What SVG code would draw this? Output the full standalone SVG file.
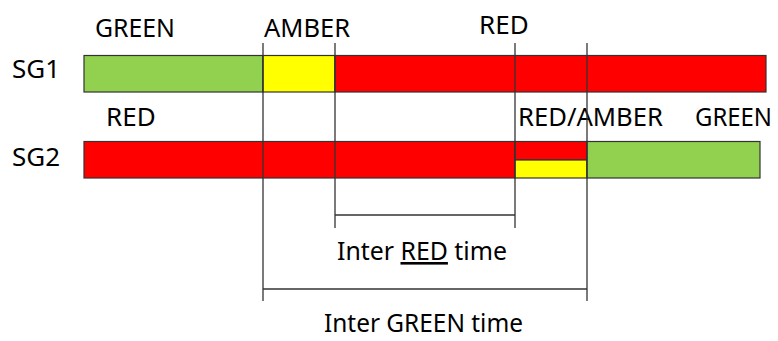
<svg xmlns="http://www.w3.org/2000/svg" width="778" height="341" viewBox="0 0 778 341">
<style>
text{font-family:"Noto Sans","Open Sans","Liberation Sans",sans-serif;font-size:26px;fill:#000}
.bar{stroke:#333;stroke-width:1.2}
.g{fill:#92D050}.y{fill:#FFFF00}.r{fill:#FF0000}
.ln{stroke:#333;stroke-width:1.3;fill:none}
</style>
<rect width="778" height="341" fill="#fff"/>
<g id="sg1">
<text x="12" y="78">SG1</text>
<rect class="bar g" x="84" y="55.5" width="179" height="36.5"/>
<rect class="bar y" x="263" y="55.5" width="72" height="36.5"/>
<rect class="bar r" x="335" y="55.5" width="431" height="36.5"/>
<text x="95" y="37" textLength="80" lengthAdjust="spacingAndGlyphs">GREEN</text>
<text x="264" y="37" textLength="86" lengthAdjust="spacingAndGlyphs">AMBER</text>
<text x="479" y="34">RED</text>
</g>
<g id="sg2">
<text x="12" y="166">SG2</text>
<rect class="bar r" x="84" y="141.5" width="431" height="36.5"/>
<rect class="bar r" x="515" y="141.5" width="72" height="18.5"/>
<rect class="bar y" x="515" y="160" width="72" height="18"/>
<rect class="bar g" x="587" y="141.5" width="173" height="36.5"/>
<text x="106" y="126">RED</text>
<text x="518" y="126" textLength="145" lengthAdjust="spacingAndGlyphs">RED/AMBER</text>
<text x="695" y="126" textLength="77" lengthAdjust="spacingAndGlyphs">GREEN</text>
</g>
<g id="connectors">
<line class="ln" x1="263" y1="43" x2="263" y2="301"/>
<line class="ln" x1="335" y1="43" x2="335" y2="228"/>
<line class="ln" x1="515" y1="43" x2="515" y2="228"/>
<line class="ln" x1="587" y1="43" x2="587" y2="301"/>
<line class="ln" x1="335" y1="215" x2="515" y2="215"/>
<line class="ln" x1="263" y1="289" x2="587" y2="289"/>
</g>
<g id="inter-red">
<text x="337" y="260" textLength="170" lengthAdjust="spacingAndGlyphs">Inter <tspan text-decoration="underline">RED</tspan> time</text>
</g>
<g id="inter-green">
<text x="324" y="332" textLength="199" lengthAdjust="spacingAndGlyphs">Inter GREEN time</text>
</g>
</svg>
